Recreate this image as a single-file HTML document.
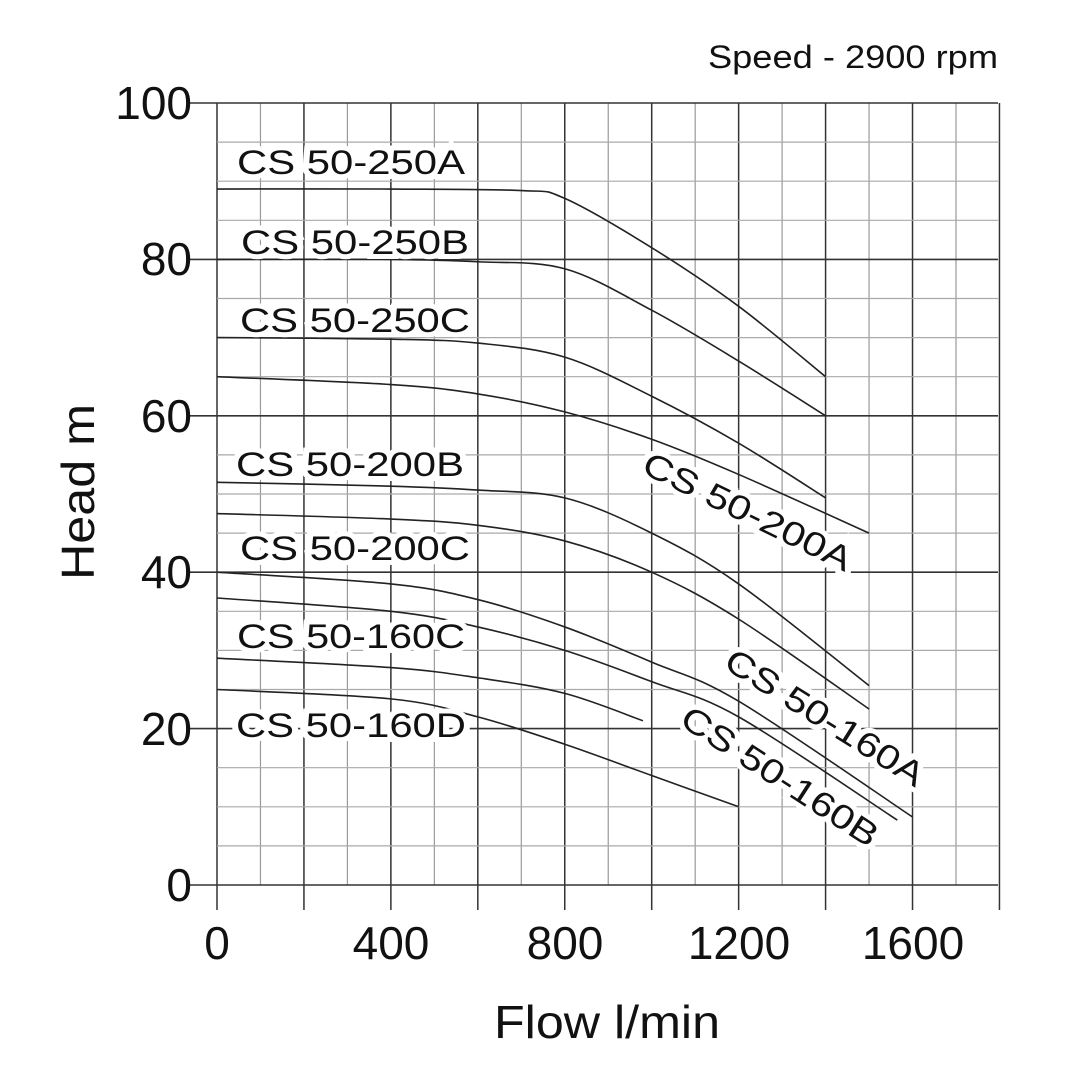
<!DOCTYPE html>
<html><head><meta charset="utf-8"><style>
html,body{margin:0;padding:0;background:#fff;}
svg{display:block;font-family:"Liberation Sans",Arial,sans-serif;}
</style></head><body>
<svg id="s" width="1079" height="1080" viewBox="0 0 1079 1080" xmlns="http://www.w3.org/2000/svg">
<rect width="1079" height="1080" fill="#fff"/>
<g id="grid"></g>
<g id="curves" fill="none" stroke="#222" stroke-width="1.6"></g>
<g font-size="34" fill="#111">
<text x="237" y="174" textLength="228" lengthAdjust="spacingAndGlyphs" stroke="#fff" stroke-width="10" paint-order="stroke">CS 50-250A</text>
<text x="241" y="254" textLength="228" lengthAdjust="spacingAndGlyphs" stroke="#fff" stroke-width="10" paint-order="stroke">CS 50-250B</text>
<text x="240" y="332" textLength="230" lengthAdjust="spacingAndGlyphs" stroke="#fff" stroke-width="10" paint-order="stroke">CS 50-250C</text>
<text x="236" y="476" textLength="228" lengthAdjust="spacingAndGlyphs" stroke="#fff" stroke-width="10" paint-order="stroke">CS 50-200B</text>
<text x="240" y="560" textLength="230" lengthAdjust="spacingAndGlyphs" stroke="#fff" stroke-width="10" paint-order="stroke">CS 50-200C</text>
<text x="237" y="648" textLength="228" lengthAdjust="spacingAndGlyphs" stroke="#fff" stroke-width="10" paint-order="stroke">CS 50-160C</text>
<text x="236" y="737" textLength="230" lengthAdjust="spacingAndGlyphs" stroke="#fff" stroke-width="10" paint-order="stroke">CS 50-160D</text>
<text transform="translate(640,472) rotate(26)" textLength="228" lengthAdjust="spacingAndGlyphs" stroke="#fff" stroke-width="10" paint-order="stroke">CS 50-200A</text>
<text transform="translate(722,667) rotate(32)" textLength="228" lengthAdjust="spacingAndGlyphs" stroke="#fff" stroke-width="10" paint-order="stroke">CS 50-160A</text>
<text transform="translate(678,724) rotate(33)" textLength="228" lengthAdjust="spacingAndGlyphs" stroke="#fff" stroke-width="10" paint-order="stroke">CS 50-160B</text>
</g>
<g font-size="46" fill="#111" text-anchor="end">
<text x="192" y="119">100</text><text x="192" y="275">80</text><text x="192" y="432">60</text>
<text x="192" y="588">40</text><text x="192" y="745">20</text><text x="192" y="901">0</text>
</g>
<g font-size="46" fill="#111" text-anchor="middle">
<text x="217" y="959">0</text><text x="391" y="959">400</text><text x="565" y="959">800</text>
<text x="739" y="959">1200</text><text x="913" y="959">1600</text>
<text x="607" y="1038" textLength="226" lengthAdjust="spacingAndGlyphs">Flow l/min</text>
<text transform="translate(94,492) rotate(-90)" textLength="176" lengthAdjust="spacingAndGlyphs">Head m</text>
</g>
<text x="708" y="68" font-size="32" fill="#111" textLength="290" lengthAdjust="spacingAndGlyphs">Speed - 2900 rpm</text>
</svg>
<script>
var X=q=>217+q*0.4347, Y=h=>885-h*7.82;
var g=document.getElementById('grid'),h='';
for(var q=0;q<=1800;q+=100){var x=X(q),maj=q%200==0;
 h+='<line x1="'+x+'" y1="103" x2="'+x+'" y2="'+(maj?910:885)+'" stroke="'+(maj?'#333':'#999')+'" stroke-width="'+(maj?1.5:1.2)+'"/>';}
for(var v=0;v<=100;v+=5){var y=Y(v),maj=v%20==0;
 h+='<line x1="'+(maj?190:217)+'" y1="'+y+'" x2="998" y2="'+y+'" stroke="'+(maj?'#333':'#aaa')+'" stroke-width="'+(maj?1.6:1.2)+'"/>';}
g.innerHTML=h;
var C=[
[[0,89],[400,89],[700,88.8],[800,87.8],[1000,81.5],[1200,74],[1400,65]],
[[0,80],[400,80],[600,79.7],[800,78.8],[1000,73.5],[1200,67],[1400,60]],
[[0,70],[400,69.8],[600,69.3],[800,67.5],[1000,62.5],[1200,56.5],[1400,49.5]],
[[0,65],[400,64],[600,62.8],[800,60.5],[1000,57],[1200,52.5],[1500,45]],
[[0,51.5],[400,51],[600,50.5],[800,49.5],[1000,45],[1200,38.5],[1500,25.5]],
[[0,47.5],[400,46.8],[600,46],[800,44],[1000,40],[1200,34],[1500,22.5]],
[[0,40],[400,38.5],[600,36.5],[800,33],[1000,28.5],[1200,23.5],[1600,8.7]],
[[0,36.7],[400,35],[600,33],[800,30],[1000,26],[1200,21.5],[1565,8.3]],
[[0,29],[400,27.8],[600,26.5],[800,24.5],[980,21]],
[[0,25],[400,23.8],[600,21.5],[800,18],[1000,14],[1200,10]]];
var s='';
C.forEach(function(p){var P=p.map(a=>[X(a[0]),Y(a[1])]);var d='M'+P[0][0]+','+P[0][1];
 for(var i=0;i<P.length-1;i++){var p0=P[i-1]||P[i],p1=P[i],p2=P[i+1],p3=P[i+2]||P[i+1];
  d+=' C'+(p1[0]+(p2[0]-p0[0])/6)+','+(p1[1]+(p2[1]-p0[1])/6)+' '+(p2[0]-(p3[0]-p1[0])/6)+','+(p2[1]-(p3[1]-p1[1])/6)+' '+p2[0]+','+p2[1];}
 s+='<path d="'+d+'"/>';});
document.getElementById('curves').innerHTML=s;
</script>
</body></html>
